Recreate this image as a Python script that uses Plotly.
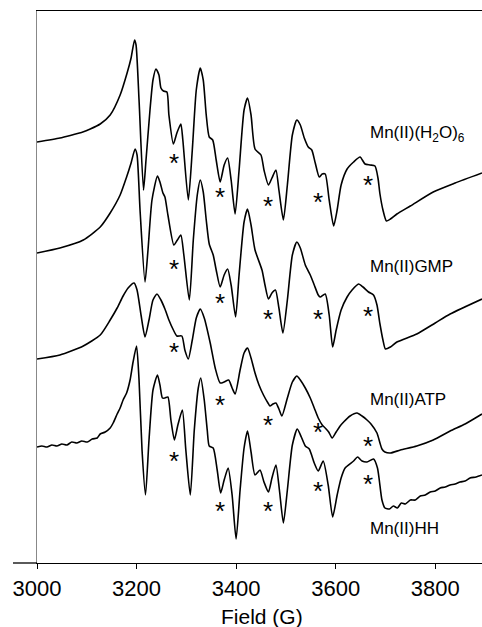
import plotly.graph_objects as go

# ---------------- data ----------------
labels = ["Mn(II)(H<sub>2</sub>O)<sub>6</sub>", "Mn(II)GMP", "Mn(II)ATP", "Mn(II)HH"]

field_h2o = [3000, 3046, 3070, 3092, 3107, 3127, 3147, 3167, 3181, 3189,
             3196, 3199, 3205, 3214, 3219, 3227, 3233, 3239, 3245, 3249,
             3254, 3261, 3265, 3274, 3281, 3289, 3293, 3304, 3312, 3320,
             3328, 3334, 3340, 3346, 3353, 3360, 3368, 3376, 3383, 3390,
             3398, 3406, 3416, 3423, 3430, 3438, 3450, 3456, 3465, 3472,
             3480, 3486, 3495, 3503, 3513, 3522, 3529, 3537, 3545, 3552,
             3559, 3567, 3573, 3579, 3587, 3596, 3603, 3611, 3623, 3636,
             3649, 3659, 3669, 3679, 3685, 3689, 3695, 3702, 3710, 3723,
             3750, 3796, 3840, 3894]
int_h2o = [0, 4, 7, 10, 13, 18, 27, 47, 69, 84,
           102, 97, 42, -48, -18, 32, 62, 73, 67, 54,
           51, 50, 27, -2, 9, 18, 2, -58, -8, 52,
           74, 62, 27, 5, 2, -18, -40, -23, -16, -38,
           -72, -28, 32, 44, 27, -7, -13, -28, -43, -36,
           -28, -48, -78, -43, 7, 22, 17, 4, -5, -8,
           -21, -35, -32, -32, -58, -84, -68, -43, -27, -20,
           -15, -22, -23, -24, -36, -52, -68, -79, -77, -72,
           -64, -50, -41, -31]

field_gmp = [3000, 3046, 3093, 3127, 3147, 3167, 3180, 3189, 3197, 3201,
             3207, 3217, 3223, 3231, 3242, 3247, 3253, 3257, 3263, 3275,
             3282, 3289, 3295, 3306, 3314, 3322, 3328, 3334, 3340, 3346,
             3354, 3360, 3368, 3376, 3383, 3390, 3399, 3406, 3416, 3423,
             3430, 3438, 3452, 3458, 3465, 3472, 3479, 3486, 3494, 3503,
             3513, 3522, 3529, 3539, 3549, 3557, 3565, 3569, 3579, 3587,
             3594, 3601, 3611, 3623, 3633, 3646, 3655, 3666, 3676, 3683,
             3689, 3695, 3700, 3710, 3723, 3763, 3800, 3830, 3894]
int_gmp = [0, 5, 13, 26, 40, 58, 76, 90, 104, 98,
           43, -29, 3, 53, 77, 71, 60, 56, 38, 8,
           13, 18, -2, -47, 13, 58, 73, 61, 33, 9,
           -2, -17, -34, -22, -16, -32, -64, -22, 31, 44,
           28, 3, -17, -32, -46, -40, -37, -55, -80, -47,
           -2, 11, 5, -12, -22, -32, -42, -44, -41, -62,
           -94, -77, -57, -44, -37, -31, -34, -39, -42, -52,
           -71, -87, -96, -94, -89, -81, -70, -61, -46]

field_atp = [3000, 3046, 3093, 3127, 3147, 3161, 3173, 3183, 3195, 3201,
             3209, 3217, 3225, 3233, 3241, 3249, 3257, 3265, 3274, 3281,
             3291, 3297, 3304, 3312, 3320, 3328, 3336, 3348, 3358, 3368,
             3376, 3385, 3392, 3398, 3408, 3416, 3423, 3430, 3438, 3446,
             3455, 3464, 3468, 3474, 3480, 3486, 3492, 3503, 3513, 3522,
             3529, 3539, 3549, 3557, 3565, 3573, 3579, 3586, 3593, 3601,
             3609, 3616, 3629, 3643, 3653, 3663, 3671, 3683, 3689, 3693,
             3699, 3710, 3730, 3763, 3796, 3830, 3860, 3894]
int_atp = [0, 4, 13, 24, 39, 51, 63, 71, 76, 69,
           44, 22, 39, 59, 65, 59, 50, 39, 29, 23,
           23, 9, 0, 19, 41, 50, 41, 16, -9, -24,
           -23, -21, -29, -35, -11, 6, 11, 1, -14, -26,
           -36, -44, -47, -45, -44, -50, -57, -39, -23, -17,
           -21, -29, -39, -49, -59, -66, -69, -73, -79, -73,
           -67, -63, -57, -54, -57, -61, -65, -74, -84, -90,
           -93, -94, -91, -87, -81, -72, -65, -55]

field_hh = [3000, 3010, 3020, 3030, 3040, 3050, 3060, 3070, 3080, 3090,
            3101, 3111, 3121, 3127, 3137, 3147, 3153, 3161, 3167, 3173,
            3180, 3187, 3193, 3200, 3205, 3211, 3218, 3225, 3233, 3242,
            3247, 3252, 3257, 3263, 3269, 3276, 3283, 3292, 3299, 3308,
            3316, 3324, 3329, 3336, 3342, 3346, 3354, 3362, 3369, 3376,
            3384, 3392, 3400, 3408, 3416, 3423, 3430, 3438, 3448, 3456,
            3465, 3472, 3480, 3487, 3495, 3503, 3513, 3523, 3531, 3539,
            3547, 3557, 3565, 3575, 3585, 3594, 3603, 3611, 3619, 3636,
            3644, 3653, 3663, 3676, 3684, 3693, 3699, 3708, 3716, 3724,
            3732, 3740, 3750, 3760, 3770, 3780, 3790, 3800, 3810, 3820,
            3830, 3840, 3850, 3860, 3870, 3882, 3894]
int_hh = [0, 1, 0, 2, 1, 3, 2, 5, 4, 6,
          5, 8, 9, 13, 15, 19, 24, 33, 39, 47,
          54, 67, 85, 101, 67, -3, -48, 7, 57, 72,
          62, 49, 49, 50, 27, 7, 22, 37, -3, -48,
          17, 59, 69, 47, 17, 1, -1, -23, -46, -33,
          -21, -48, -92, -43, -1, 16, -5, -28, -23, -35,
          -45, -31, -18, -43, -76, -43, 2, 18, 10, 1,
          -2, -16, -24, -14, -38, -70, -48, -31, -21, -14,
          -10, -14, -15, -12, -21, -53, -61, -62, -59, -61,
          -56, -57, -53, -53, -49, -48, -45, -44, -41, -40,
          -38, -37, -35, -34, -31, -30, -28]

offsets = [421, 310, 204, 116]          # vertical stacking of the spectra

star_fields = [3276, 3368, 3465, 3565, 3665]
star_vals = [[-15, -49, -58, -54, -37],
             [-10, -44, -60, -60, -57],
             [13, -40, -60, -67, -81],
             [-8, -58, -58, -38, -31]]

label_field = 3665
label_vals = [8, -13, -40, -81]

tick_vals = [3000, 3200, 3400, 3600, 3800]
x_range = [3000, 3894]

FONT = "Liberation Sans, Arial, Helvetica, sans-serif"

fields = [field_h2o, field_gmp, field_atp, field_hh]
ints = [int_h2o, int_gmp, int_atp, int_hh]

fig = go.Figure()
for f, v, off in zip(fields, ints, offsets):
    fig.add_trace(go.Scatter(
        x=f, y=[val + off for val in v], mode="lines",
        line=dict(color="black", width=1.6, shape="spline", smoothing=0.6),
        showlegend=False, hoverinfo="skip"))

annotations = []
for sv, off in zip(star_vals, offsets):
    for fx, val in zip(star_fields, sv):
        annotations.append(dict(x=fx, y=val + off, xref="x", yref="y", text="*",
                                showarrow=False, font=dict(family=FONT, size=26, color="black"),
                                xanchor="center", yanchor="middle", yshift=-6))
for lab, val, off in zip(labels, label_vals, offsets):
    annotations.append(dict(x=label_field, y=val + off, xref="x", yref="y", text=lab,
                            showarrow=False, font=dict(family=FONT, size=17, color="black"),
                            xanchor="left", yanchor="middle"))
annotations.append(dict(x=0.506, y=-0.097, xref="paper", yref="paper", text="Field (G)",
                        showarrow=False, font=dict(family=FONT, size=21, color="black"),
                        xanchor="center", yanchor="middle"))

fig.update_layout(
    width=482, height=627,
    margin=dict(l=37, r=0, t=11, b=64),
    paper_bgcolor="white", plot_bgcolor="white",
    annotations=annotations,
    shapes=[dict(type="line", xref="paper", yref="paper", x0=-0.054, x1=0, y0=0, y1=0,
                 line=dict(color="black", width=1.3))],
    xaxis=dict(range=x_range, tickvals=tick_vals, ticks="outside", ticklen=5,
               tickcolor="black", tickwidth=1.3, showline=True, mirror=True,
               linecolor="black", linewidth=1.3, showgrid=False, zeroline=False,
               tickfont=dict(family=FONT, size=22, color="black")),
    yaxis=dict(range=[0, 552], showticklabels=False, ticks="", showgrid=False,
               zeroline=False, showline=True, linecolor="#888888", linewidth=1.3),
)

fig.write_html("out.html", config={"displayModeBar": False},
               post_script="document.body.style.margin='0';document.body.style.padding='0';")
